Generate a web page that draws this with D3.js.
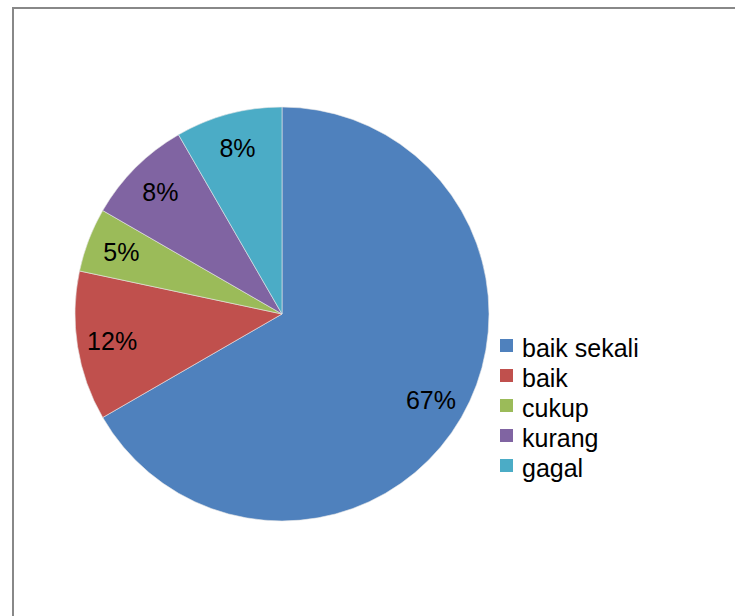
<!DOCTYPE html>
<html>
<head>
<meta charset="utf-8">
<script src="https://cdn.jsdelivr.net/npm/d3@7"></script>
<style>
  body { margin: 0; background: #fff; }
</style>
</head>
<body>
<div id="chart"></div>
<script>
const categories = ["baik sekali", "baik", "cukup", "kurang", "gagal"];
const counts = [40, 7, 3, 5, 5];
const colors = ["#4f81bd", "#c0504d", "#9bbb59", "#8064a2", "#4bacc6"];

const size = { width: 735, height: 616 };
const center = { x: 282, y: 314 };
const radius = 207;

const data = categories.map((name, i) => ({ name, count: counts[i], color: colors[i] }));
const total = d3.sum(counts);

const svg = d3.select("#chart")
  .append("svg")
  .attr("width", size.width)
  .attr("height", size.height)
  .style("font-family", "Liberation Sans, Arial, sans-serif");

// chart area border (runs off the right and bottom edges)
svg.append("rect")
  .attr("x", 13)
  .attr("y", 8)
  .attr("width", 740)
  .attr("height", 640)
  .attr("fill", "#fff")
  .attr("stroke", "#888")
  .attr("stroke-width", 2);

const pie = d3.pie().sort(null).value((d) => d.count);
const arc = d3.arc().innerRadius(0).outerRadius(radius);
const labelArc = d3.arc().innerRadius(172).outerRadius(172);

const g = svg.append("g").attr("transform", `translate(${center.x},${center.y})`);

const slices = pie(data);

g.selectAll("path")
  .data(slices)
  .join("path")
  .attr("d", arc)
  .attr("fill", (d) => d.data.color)
  .attr("stroke", "#e8e8e8")
  .attr("stroke-width", 0.6);

g.selectAll("text")
  .data(slices)
  .join("text")
  .attr("transform", (d) => `translate(${labelArc.centroid(d)})`)
  .attr("text-anchor", "middle")
  .attr("dy", "0.36em")
  .style("font-size", "25px")
  .attr("fill", "#000")
  .text((d) => Math.round((d.data.count / total) * 100) + "%");

// legend
const legend = svg.append("g").attr("transform", "translate(500, 339)");
const rows = legend.selectAll("g")
  .data(data)
  .join("g")
  .attr("transform", (d, i) => `translate(0, ${i * 30})`);

rows.append("rect")
  .attr("width", 13)
  .attr("height", 13)
  .attr("fill", (d) => d.color);

rows.append("text")
  .attr("x", 22)
  .attr("y", 18)
  .style("font-size", "25px")
  .attr("fill", "#000")
  .text((d) => d.name);
</script>
</body>
</html>
